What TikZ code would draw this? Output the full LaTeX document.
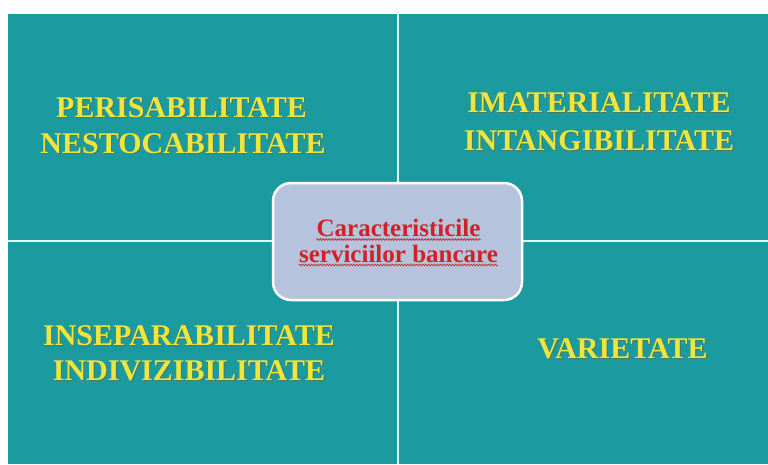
\documentclass[tikz,border=0pt]{standalone}
\usepackage{fontspec}
\setmainfont{Liberation Serif}
\usetikzlibrary{decorations.pathmorphing}

\definecolor{panelteal}{RGB}{27,155,160}
\definecolor{bannergold}{RGB}{238,230,62}
\definecolor{bannershadow}{RGB}{90,110,60}
\definecolor{hubfill}{RGB}{181,196,220}
\definecolor{hubred}{RGB}{208,32,40}
\definecolor{dividerwhite}{RGB}{225,245,248}

% one line of a quadrant heading, with its soft drop shadow
\newcommand\bannerline[3]{%
  \node[bannershade, xshift=1pt, yshift=-1pt] at (#2) {#3};
  \node[banner] (#1) at (#2) {#3};}

\begin{document}
\begin{tikzpicture}[x=1pt,y=-1pt,
  banner/.style={font=\fontsize{30}{35}\selectfont\bfseries, text=bannergold,
                 anchor=base, inner sep=0pt},
  bannershade/.style={banner, text=bannershadow, opacity=0.7},
  divider/.style={draw=dividerwhite, line width=2.6pt},
  hub/.style={draw=white, line width=2.5pt, fill=hubfill, rounded corners=18pt,
              minimum width=249pt, minimum height=117pt, inner sep=0pt},
  hubtext/.style={font=\fontsize{25}{30}\selectfont\bfseries, text=hubred,
                  anchor=base, inner sep=0pt},
  spell/.style={draw=hubred, line width=0.7pt,
                decorate, decoration={snake, amplitude=0.9pt, segment length=3pt}}]

\useasboundingbox (0,0) rectangle (768,464);

% four panels and the white dividing cross
\fill[panelteal] (8,14) rectangle (768,464);
\draw[divider] (398,14) -- (398,464);
\draw[divider] (8,241) -- (768,241);

% quadrant headings
\bannerline{tla}{181.5,117}{PERISABILITATE}
\bannerline{tlb}{183,153}{NESTOCABILITATE}
\bannerline{tra}{599,112}{IMATERIALITATE}
\bannerline{trb}{599,150}{INTANGIBILITATE}
\bannerline{bla}{189,345}{INSEPARABILITATE}
\bannerline{blb}{189,380}{INDIVIZIBILITATE}
\bannerline{bra}{622.5,358}{VARIETATE}

% central box
\node[hub] (hub) at (397.5,241.5) {};
\node[hubtext] (hubA) at (398.5,236.5) {Caracteristicile};
\node[hubtext] (hubB) at (398.5,262) {serviciilor bancare};
\draw[spell] ([yshift=-3pt]hubA.base west) -- ([yshift=-3pt]hubA.base east);
\draw[spell] ([yshift=-3pt]hubB.base west) -- ([yshift=-3pt]hubB.base east);

\end{tikzpicture}
\end{document}
